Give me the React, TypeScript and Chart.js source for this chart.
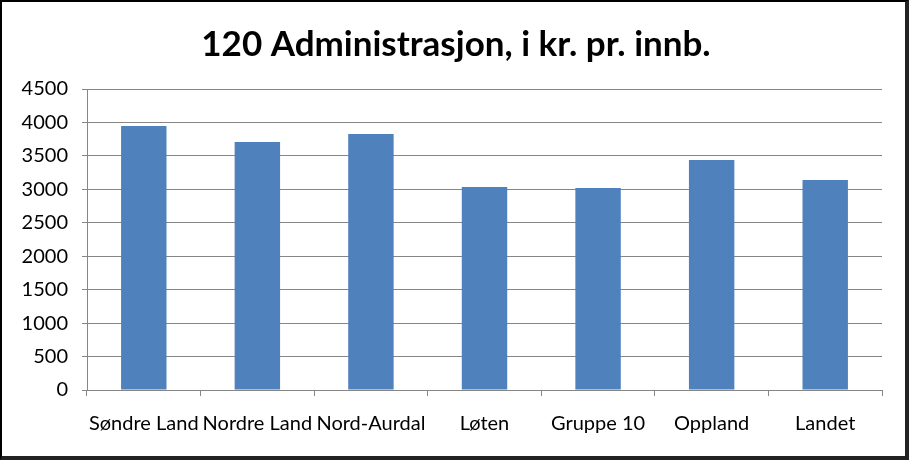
import React, { useEffect, useRef } from "react";
import { Chart, registerables } from "chart.js";

Chart.register(...registerables);

const categories = ["Søndre Land", "Nordre Land", "Nord-Aurdal", "Løten", "Gruppe 10", "Oppland", "Landet"];
const values = [3947, 3708, 3827, 3035, 3020, 3439, 3140];
const titleText = "120 Administrasjon, i kr. pr. innb.";
const yMin = 0;
const yMax = 4500;
const yStep = 500;

export default function App() {
  const ref = useRef<HTMLCanvasElement | null>(null);
  useEffect(() => {
    document.body.style.margin = "0";
    const ctx = ref.current!;
    const chart = new Chart(ctx, {
      type: "bar",
      data: {
        labels: categories,
        datasets: [
          {
            data: values,
            backgroundColor: "#4F81BD",
            borderWidth: 0,
            barPercentage: 0.4,
            categoryPercentage: 1,
          },
        ],
      },
      options: {
        animation: false,
        responsive: false,
        maintainAspectRatio: false,
        layout: { padding: { left: 5, right: 0, top: 0, bottom: 18 } },
        plugins: {
          legend: { display: false },
          tooltip: { enabled: false },
          title: {
            display: true,
            text: titleText,
            color: "#000",
            font: { family: "Lato", size: 35, weight: "bold", lineHeight: 1.2 },
            padding: { top: 22, bottom: 23 },
          },
        },
        scales: {
          x: {
            grid: { display: true, drawOnChartArea: false, drawTicks: true, tickLength: 6, color: "#868686", offset: true },
            border: { display: true, color: "#868686", width: 1 },
            ticks: { color: "#000", font: { family: "Lato", size: 20 }, padding: 16, maxRotation: 0, autoSkip: false },
            afterFit: (s: any) => { s.height = 48; },
          },
          y: {
            min: yMin,
            max: yMax,
            grid: { color: "#868686", tickLength: 5, lineWidth: 1 },
            border: { display: true, color: "#868686", width: 1 },
            ticks: {
              stepSize: yStep,
              color: "#000",
              font: { family: "Lato", size: 20 },
              padding: 14,
              callback: (v: any) => String(v),
            },
            afterFit: (s: any) => { s.width = 80; },
          },
          yRight: {
            position: "right",
            min: yMin,
            max: yMax,
            grid: { display: false },
            border: { display: false },
            ticks: { display: false },
            afterFit: (s: any) => { s.width = 23; },
          },
        },
      },
    });
    return () => chart.destroy();
  }, []);
  return (
    <div
      style={{
        position: "absolute",
        left: 0,
        top: 0,
        width: 909,
        height: 460,
        boxSizing: "border-box",
        borderTop: "2px solid #000",
        borderLeft: "2px solid #000",
        borderRight: "4px solid #222",
        borderBottom: "4px solid #222",
        background: "#fff",
      }}
    >
      <canvas ref={ref} width={903} height={454} style={{ display: "block" }} />
    </div>
  );
}
